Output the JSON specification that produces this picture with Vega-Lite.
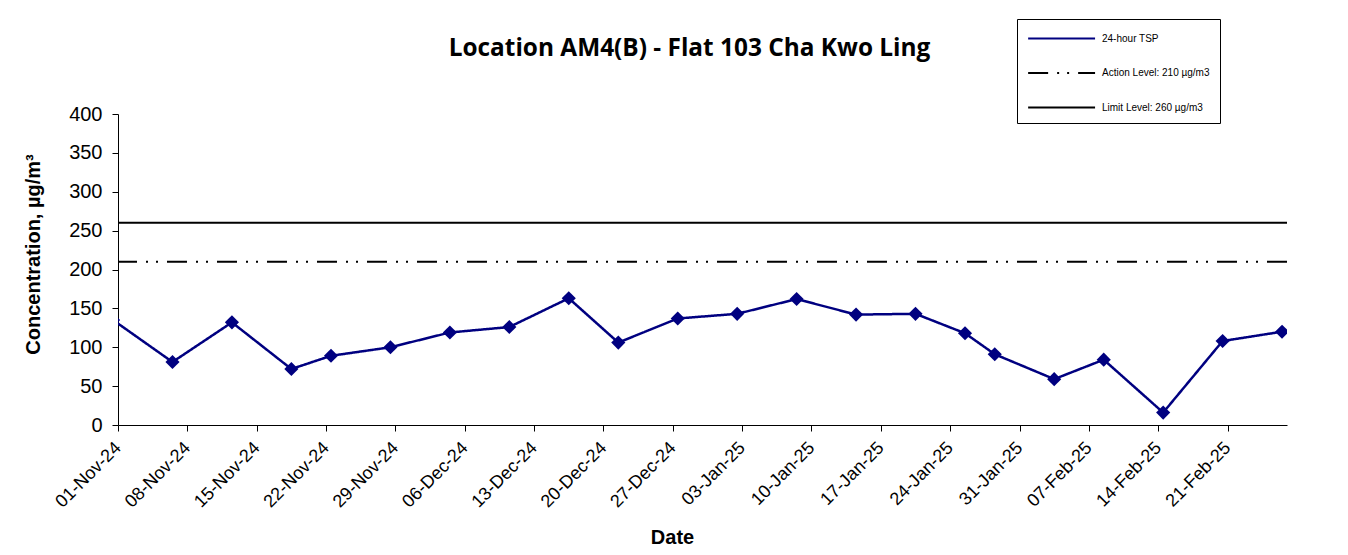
{
  "$schema": "https://vega.github.io/schema/vega-lite/v6.json",
  "width": 1169,
  "height": 311,
  "autosize": "none",
  "padding": {"left": 118, "top": 114, "right": 61, "bottom": 130},
  "background": "white",
  "title": {
    "text": "Location AM4(B) - Flat 103 Cha Kwo Ling",
    "font": "Open Sans",
    "fontSize": 24.4,
    "fontWeight": "bold",
    "color": "black",
    "anchor": "middle",
    "baseline": "bottom",
    "dx": -13,
    "offset": -67
  },
  "config": {
    "view": {"stroke": null},
    "font": "Liberation Sans",
    "axis": {
      "domainColor": "black",
      "tickColor": "black",
      "labelColor": "black",
      "titleColor": "black",
      "grid": false,
      "domainWidth": 1,
      "tickWidth": 1
    },
    "axisY": {
      "values": [0, 50, 100, 150, 200, 250, 300, 350, 400],
      "labelFontSize": 20,
      "labelOverlap": false,
      "tickSize": 6,
      "labelPadding": 10,
      "titleFontSize": 20,
      "titleFontWeight": "bold",
      "titleAngle": -90,
      "titleX": -85,
      "titleY": 140,
      "titleAlign": "center",
      "titleBaseline": "middle"
    }
  },
  "datasets": {
    "tsp": [
      {"date": "2024-10-31", "value": 135, "series": "24-hour TSP"},
      {"date": "2024-11-06", "value": 81, "series": "24-hour TSP"},
      {"date": "2024-11-12", "value": 132, "series": "24-hour TSP"},
      {"date": "2024-11-18", "value": 72, "series": "24-hour TSP"},
      {"date": "2024-11-22", "value": 89, "series": "24-hour TSP"},
      {"date": "2024-11-28", "value": 100, "series": "24-hour TSP"},
      {"date": "2024-12-04", "value": 119, "series": "24-hour TSP"},
      {"date": "2024-12-10", "value": 126, "series": "24-hour TSP"},
      {"date": "2024-12-16", "value": 163, "series": "24-hour TSP"},
      {"date": "2024-12-21", "value": 106, "series": "24-hour TSP"},
      {"date": "2024-12-27", "value": 137, "series": "24-hour TSP"},
      {"date": "2025-01-02", "value": 143, "series": "24-hour TSP"},
      {"date": "2025-01-08", "value": 162, "series": "24-hour TSP"},
      {"date": "2025-01-14", "value": 142, "series": "24-hour TSP"},
      {"date": "2025-01-20", "value": 143, "series": "24-hour TSP"},
      {"date": "2025-01-25", "value": 118, "series": "24-hour TSP"},
      {"date": "2025-01-28", "value": 91, "series": "24-hour TSP"},
      {"date": "2025-02-03", "value": 59, "series": "24-hour TSP"},
      {"date": "2025-02-08", "value": 84, "series": "24-hour TSP"},
      {"date": "2025-02-14", "value": 16, "series": "24-hour TSP"},
      {"date": "2025-02-20", "value": 108, "series": "24-hour TSP"},
      {"date": "2025-02-26", "value": 120, "series": "24-hour TSP"}
    ],
    "levels": [
      {"series": "Action Level: 210 µg/m3", "level": 210},
      {"series": "Limit Level: 260 µg/m3", "level": 260}
    ]
  },
  "encoding": {
    "y": {
      "type": "quantitative",
      "title": "Concentration, µg/m³",
      "scale": {"domain": [0, 400]},
      "axis": {"values": [0, 50, 100, 150, 200, 250, 300, 350, 400], "labelOverlap": false}
    },
    "color": {
      "field": "series",
      "type": "nominal",
      "scale": {
        "domain": ["24-hour TSP", "Action Level: 210 µg/m3", "Limit Level: 260 µg/m3"],
        "range": ["#000080", "#000000", "#000000"]
      },
      "legend": {
        "title": null,
        "orient": "none",
        "legendX": 899,
        "legendY": -95,
        "strokeColor": "black",
        "fillColor": "white",
        "padding": 10,
        "symbolType": "M-1,0H7",
        "symbolSize": 280,
        "symbolStrokeWidth": 2,
        "labelFont": "Liberation Sans",
        "labelFontSize": 10,
        "labelColor": "black",
        "labelOffset": 56,
        "rowPadding": 19.5,
        "labelLimit": 300
      }
    },
    "strokeDash": {
      "field": "series",
      "type": "nominal",
      "scale": {
        "domain": ["24-hour TSP", "Action Level: 210 µg/m3", "Limit Level: 260 µg/m3"],
        "range": [[1, 0], [20, 9, 2, 8, 2, 9], [1, 0]]
      }
    }
  },
  "layer": [
    {
      "data": {"name": "levels"},
      "mark": {"type": "rule", "strokeWidth": 2},
      "encoding": {
        "y": {"field": "level", "type": "quantitative"}
      }
    },
    {
      "data": {"name": "tsp"},
      "mark": {"type": "line", "strokeWidth": 2.5, "clip": true},
      "encoding": {
        "x": {
          "field": "date",
          "type": "temporal",
          "timeUnit": "utcyearmonthdate",
          "bandPosition": 0.5,
          "title": "Date",
          "scale": {
            "domain": [
              {"year": 2024, "month": 11, "date": 1, "utc": true},
              {"year": 2025, "month": 2, "date": 27, "utc": true}
            ]
          },
          "axis": {
            "values": [
              {"year": 2024, "month": 11, "date": 1, "utc": true},
              {"year": 2024, "month": 11, "date": 8, "utc": true},
              {"year": 2024, "month": 11, "date": 15, "utc": true},
              {"year": 2024, "month": 11, "date": 22, "utc": true},
              {"year": 2024, "month": 11, "date": 29, "utc": true},
              {"year": 2024, "month": 12, "date": 6, "utc": true},
              {"year": 2024, "month": 12, "date": 13, "utc": true},
              {"year": 2024, "month": 12, "date": 20, "utc": true},
              {"year": 2024, "month": 12, "date": 27, "utc": true},
              {"year": 2025, "month": 1, "date": 3, "utc": true},
              {"year": 2025, "month": 1, "date": 10, "utc": true},
              {"year": 2025, "month": 1, "date": 17, "utc": true},
              {"year": 2025, "month": 1, "date": 24, "utc": true},
              {"year": 2025, "month": 1, "date": 31, "utc": true},
              {"year": 2025, "month": 2, "date": 7, "utc": true},
              {"year": 2025, "month": 2, "date": 14, "utc": true},
              {"year": 2025, "month": 2, "date": 21, "utc": true}
            ],
            "format": "%d-%b-%y",
            "labelAngle": -45,
            "labelAlign": "right",
            "labelBaseline": "middle",
            "labelFontSize": 18,
            "labelPadding": 14,
            "tickSize": 6,
            "labelOverlap": false,
            "labelFlush": false,
            "titleFontSize": 20,
            "titleFontWeight": "bold",
            "titleX": 554,
            "titleY": 118,
            "titleAlign": "center",
            "titleBaseline": "alphabetic"
          }
        },
        "y": {"field": "value", "type": "quantitative"}
      }
    },
    {
      "data": {"name": "tsp"},
      "mark": {"type": "point", "shape": "diamond", "filled": true, "size": 200, "opacity": 1, "color": "#000080", "clip": true},
      "encoding": {
        "x": {"field": "date", "type": "temporal", "timeUnit": "utcyearmonthdate", "bandPosition": 0.5},
        "y": {"field": "value", "type": "quantitative"},
        "color": {"value": "#000080"},
        "strokeDash": {"value": [1, 0]}
      }
    }
  ]
}
